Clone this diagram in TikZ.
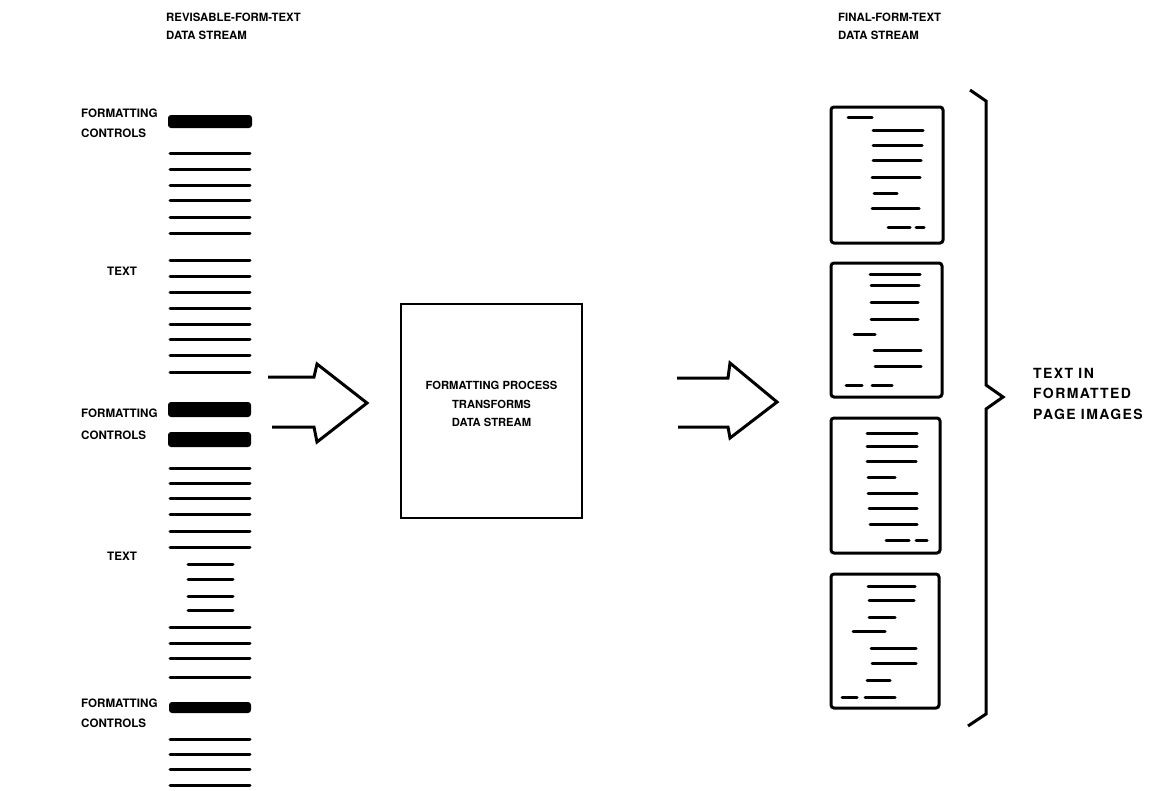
\documentclass[tikz,border=0pt]{standalone}
\usepackage{fontspec}
\setmainfont{TeX Gyre Heros}
\newfontfamily\widefont[LetterSpace=10]{TeX Gyre Heros}
\begin{document}
\begin{tikzpicture}[x=1pt,y=-1pt,
  lbl/.style={inner sep=0pt,anchor=north west,align=left,
    font=\fontsize{11.6}{19.5}\selectfont\bfseries},
  headlbl/.style={lbl,font=\fontsize{11.4}{18}\selectfont\bfseries},
  widelbl/.style={lbl,font=\widefont\fontsize{14}{20.5}\selectfont\bfseries},
  rule/.style={line width=3pt,line cap=round},
  bar/.style={fill=black,rounded corners=3pt},
  page/.style={line width=3pt,rounded corners=3pt},
  fatarrow/.style={line width=3pt,line join=miter},
  procbox/.style={draw,line width=2pt,inner sep=0pt}]
\useasboundingbox (0,0) rectangle (1153,790);

% column headings
\node[headlbl] (hin) at (166,13) {REVISABLE-FORM-TEXT\\DATA STREAM};
\node[headlbl] (hout) at (838,13) {FINAL-FORM-TEXT\\DATA STREAM};

% labels beside the input stream
\node[lbl] (fc1) at (81,109) {FORMATTING\\CONTROLS};
\node[lbl] (tx1) at (107,267) {TEXT};
\node[lbl,font=\fontsize{11.6}{22}\selectfont\bfseries] (fc2) at (81,409) {FORMATTING\\CONTROLS};
\node[lbl] (tx2) at (107,552) {TEXT};
\node[lbl] (fc3) at (81,699) {FORMATTING\\CONTROLS};

% input stream: heavy bars are controls, rules are lines of text
\fill[bar] (168,115) rectangle (252,128);
\fill[bar] (168,402) rectangle (251,417);
\fill[bar] (168,432) rectangle (251,447);
\fill[bar] (169,702) rectangle (251,713);
\foreach \y in {153,169,185,200,217,233,260,276,292,308,324,339,355,372,
                468,483,498,514,531,547,627,643,658,677,739,754,769,785}
  \draw[rule] (170,\y) -- (250,\y);
\foreach \y in {564,579,596,610}
  \draw[rule] (188,\y) -- (233,\y);

% formatting process
\node[procbox,minimum width=181pt,minimum height=214pt] (proc) at (491.5,411) {};
\node[inner sep=0pt,align=center,font=\fontsize{11.2}{18.5}\selectfont\bfseries]
  (proctext) at (491.5,404) {FORMATTING PROCESS\\TRANSFORMS\\DATA STREAM};

% block arrows into and out of the process
\draw[fatarrow] (268,377) -- (314,377) -- (317,364) -- (367,403)
  -- (317,442) -- (314,427) -- (272,427);
\draw[fatarrow] (677,378) -- (728,378) -- (730,363) -- (777,402)
  -- (730,438) -- (728,427) -- (678,427);

% output pages
\draw[page] (831,107) rectangle (943,243);
\draw[page] (831,263) rectangle (942,397);
\draw[page] (831,418) rectangle (940,553);
\draw[page] (831,574) rectangle (939,708);
\foreach \y/\a/\b in {117/848/872,130/873/923,145/873/922,160/873/921,
    177/872/920,193/874/897,208/872/919,227/888/910,227/916/924,
    274/870/920,285/871/919,302/871/918,319/871/918,334/854/875,
    350/874/921,366/875/921,385/846/862,385/872/892,
    433/867/917,446/867/917,461/867/916,477/868/895,493/868/917,
    508/869/917,524/870/917,540/886/909,540/916/927,
    586/868/915,600/869/914,617/869/895,631/853/885,648/871/916,
    663/872/916,680/867/890,697/842/857,697/865/895}
  \draw[rule] (\a,\y) -- (\b,\y);

% brace and its label
\draw[line width=3pt,line join=miter] (970,90) -- (986,101) -- (986,385)
  -- (1003,397) -- (986,409) -- (986,714) -- (968,726);
\node[widelbl] (pages) at (1033,368) {TEXT IN\\FORMATTED\\PAGE IMAGES};
\end{tikzpicture}
\end{document}
